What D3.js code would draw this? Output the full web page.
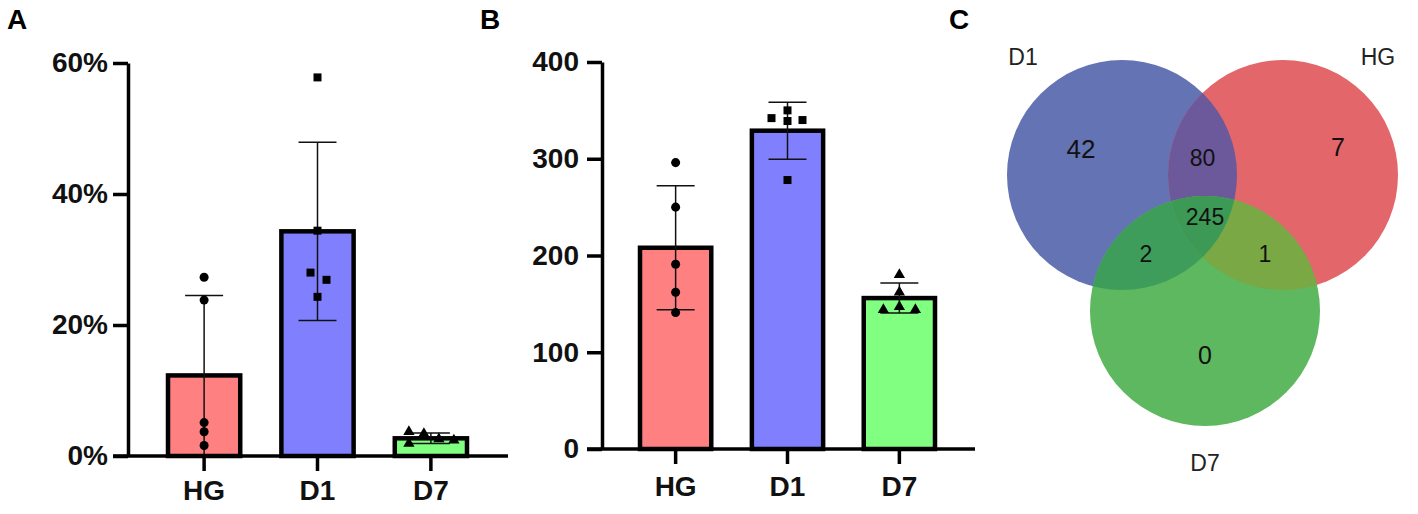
<!DOCTYPE html>
<html>
<head>
<meta charset="utf-8">
<script src="https://cdn.jsdelivr.net/npm/d3@7"></script>
<style>
  body { margin: 0; background: #fff; }
  svg { display: block; font-family: "Liberation Sans", Arial, sans-serif; }
</style>
</head>
<body>
<svg id="chart" width="1418" height="514"></svg>
<script>
// groups shared by panels A and B
var groups = ['HG', 'D1', 'D7']
var barFill = ['#ff8080', '#8080ff', '#80ff80']
var symbols = [d3.symbolCircle, d3.symbolSquare, d3.symbolTriangle]

// panel A: percentages
var aTicks = [0, 0.2, 0.4, 0.6]
var aMean = [0.123, 0.343, 0.027]
var aSD = [0.122, 0.136, 0.008]
var aPoints = [
  [0.273, 0.238, 0.051, 0.037, 0.016],
  [0.578, 0.344, 0.280, 0.269, 0.243],
  [0.037, 0.034, 0.026, 0.024, 0.019]
]
var aJitter = [
  [0, 0, 0, 0, 0],
  [0, 0, -7, 9, 0],
  [-22, -7, 8, 23, -22]
]

// panel B: counts
var bTicks = [0, 100, 200, 300, 400]
var bMean = [208, 329, 156]
var bSD = [64, 29.5, 15.5]
var bPoints = [
  [296, 250, 191, 162, 141],
  [350, 342, 340, 339, 278],
  [180, 162, 147, 144, 144]
]
var bJitter = [
  [0, 0, 0, 0, 0],
  [0, -16, 15, 0, 0],
  [0, 0, 0, -16, 16]
]

// panel C: venn
var vennSets = ['D1', 'HG', 'D7']
var vennColors = ['#6373b3', '#e3676a', '#5db85f']
var vennOnly = [42, 7, 0]
var vennD1HG = 80
var vennD1D7 = 2
var vennHGD7 = 1
var vennAll = 245
var pairColors = { d1hg: '#6c599b', d1d7: '#3f9d5b', hgd7: '#79a845', all: '#3c9a56' }

var svg = d3.select('#chart')

function barPanel (opt) {
  var g = svg.append('g')
  var y = d3.scaleLinear().domain(opt.domain).range([opt.bottom, opt.top])
  var x = d3.scaleBand().domain(groups).range(opt.xRange).paddingInner(0.363).paddingOuter(0)

  // bars
  g.selectAll('rect.bar').data(groups).enter().append('rect')
    .attr('x', function (d) { return x(d) })
    .attr('width', x.bandwidth())
    .attr('y', function (d, i) { return y(opt.mean[i]) })
    .attr('height', function (d, i) { return y(0) - y(opt.mean[i]) })
    .attr('fill', function (d, i) { return barFill[i] })
    .attr('stroke', '#000')
    .attr('stroke-width', 4.5)

  // error bars
  groups.forEach(function (grp, i) {
    var cx = x(grp) + x.bandwidth() / 2
    var hi = y(opt.mean[i] + opt.sd[i])
    var lo = y(Math.max(0, opt.mean[i] - opt.sd[i]))
    var eg = g.append('g').attr('stroke', '#111').attr('stroke-width', 1.5)
    eg.append('line').attr('x1', cx).attr('x2', cx).attr('y1', hi).attr('y2', lo)
    eg.append('line').attr('x1', cx - 19).attr('x2', cx + 19).attr('y1', hi).attr('y2', hi)
    if (opt.mean[i] - opt.sd[i] > 0) {
      eg.append('line').attr('x1', cx - 19).attr('x2', cx + 19).attr('y1', lo).attr('y2', lo)
    }
    // points
    g.selectAll(null).data(opt.points[i]).enter().append('path')
      .attr('d', d3.symbol().type(symbols[i]).size(i === 2 ? 55 : 64))
      .attr('transform', function (v, j) {
        return 'translate(' + (cx + opt.jitter[i][j]) + ',' + y(v) + ')'
      })
      .attr('fill', '#000')
  })

  // y axis
  var ya = g.append('g')
    .attr('transform', 'translate(' + opt.axisX + ',0)')
    .call(d3.axisLeft(y).tickValues(opt.ticks).tickFormat(opt.fmt).tickSize(15).tickSizeOuter(0).tickPadding(opt.tickPad))
  ya.selectAll('path, line').attr('stroke', '#000').attr('stroke-width', 3.5)
  ya.selectAll('text').attr('font-size', 28).attr('font-weight', 'bold').attr('fill', '#111')

  // x axis
  var xa = g.append('g')
    .attr('transform', 'translate(0,' + opt.bottom + ')')
    .call(d3.axisBottom(x).tickSize(15).tickPadding(opt.xPad))
  xa.select('.domain').remove()
  xa.selectAll('line').attr('stroke', '#000').attr('stroke-width', 3.5)
  xa.selectAll('text').attr('font-size', 28).attr('font-weight', 'bold').attr('fill', '#111')
  g.append('line')
    .attr('x1', opt.axisX - 15).attr('x2', opt.xEnd)
    .attr('y1', opt.bottom).attr('y2', opt.bottom)
    .attr('stroke', '#000').attr('stroke-width', 3.5)

  svg.append('text').text(opt.label)
    .attr('x', opt.labelX).attr('y', 29)
    .attr('font-size', 28).attr('font-weight', 'bold')
}

barPanel({
  label: 'A', labelX: 7,
  domain: [0, 0.6], ticks: aTicks, fmt: d3.format('.0%'),
  mean: aMean, sd: aSD, points: aPoints, jitter: aJitter,
  top: 63, bottom: 456, axisX: 128, xEnd: 508,
  xRange: [168, 467], tickPad: 5, xPad: 9
})

barPanel({
  label: 'B', labelX: 480,
  domain: [0, 400], ticks: bTicks, fmt: d3.format('d'),
  mean: bMean, sd: bSD, points: bPoints, jitter: bJitter,
  top: 62, bottom: 449, axisX: 602, xEnd: 975,
  xRange: [640, 935], tickPad: 8, xPad: 12
})

// panel C
svg.append('text').text('C')
  .attr('x', 949).attr('y', 29)
  .attr('font-size', 28).attr('font-weight', 'bold')

var r = 115
var centers = [[1122, 175], [1283, 175], [1205, 311]]
var defs = svg.append('defs')
vennSets.forEach(function (s, i) {
  defs.append('clipPath').attr('id', 'clip-' + s)
    .append('circle').attr('cx', centers[i][0]).attr('cy', centers[i][1]).attr('r', r)
})

var vg = svg.append('g')
vg.selectAll('circle.set').data(vennSets).enter().append('circle')
  .attr('cx', function (d, i) { return centers[i][0] })
  .attr('cy', function (d, i) { return centers[i][1] })
  .attr('r', r)
  .attr('fill', function (d, i) { return vennColors[i] })

function overlap (clipSet, circIdx, color, innerClip) {
  var g = vg.append('g').attr('clip-path', 'url(#clip-' + clipSet + ')')
  if (innerClip) g = g.append('g').attr('clip-path', 'url(#clip-' + innerClip + ')')
  g.append('circle')
    .attr('cx', centers[circIdx][0]).attr('cy', centers[circIdx][1]).attr('r', r)
    .attr('fill', color)
}
overlap('HG', 0, pairColors.d1hg)
overlap('D7', 0, pairColors.d1d7)
overlap('D7', 1, pairColors.hgd7)
overlap('D7', 0, pairColors.all, 'HG')

var vennLabels = [
  { t: vennOnly[0], x: centers[0][0] - 41, y: centers[0][1] - 26, s: 26 },
  { t: vennOnly[1], x: centers[1][0] + 55, y: centers[1][1] - 28, s: 25 },
  { t: vennOnly[2], x: centers[2][0], y: centers[2][1] + 44, s: 25 },
  { t: vennD1HG, x: (centers[0][0] + centers[1][0]) / 2, y: centers[0][1] - 17, s: 23 },
  { t: vennAll, x: centers[2][0], y: centers[2][1] - 94, s: 23 },
  { t: vennD1D7, x: centers[2][0] - 59, y: centers[2][1] - 57, s: 23 },
  { t: vennHGD7, x: centers[2][0] + 60, y: centers[2][1] - 57, s: 23 }
]
vg.selectAll('text.count').data(vennLabels).enter().append('text')
  .attr('x', function (d) { return d.x })
  .attr('y', function (d) { return d.y })
  .attr('dy', '0.36em')
  .attr('text-anchor', 'middle')
  .attr('font-size', function (d) { return d.s })
  .attr('fill', '#111')
  .text(function (d) { return d.t })

var setLabelPos = [[centers[0][0] - 99, 57], [centers[1][0] + 95, 57], [centers[2][0], 463]]
svg.selectAll('text.setname').data(vennSets).enter().append('text')
  .attr('x', function (d, i) { return setLabelPos[i][0] })
  .attr('y', function (d, i) { return setLabelPos[i][1] })
  .attr('dy', '0.36em')
  .attr('text-anchor', 'middle')
  .attr('font-size', 23)
  .attr('fill', '#222')
  .text(function (d) { return d })
</script>
</body>
</html>
